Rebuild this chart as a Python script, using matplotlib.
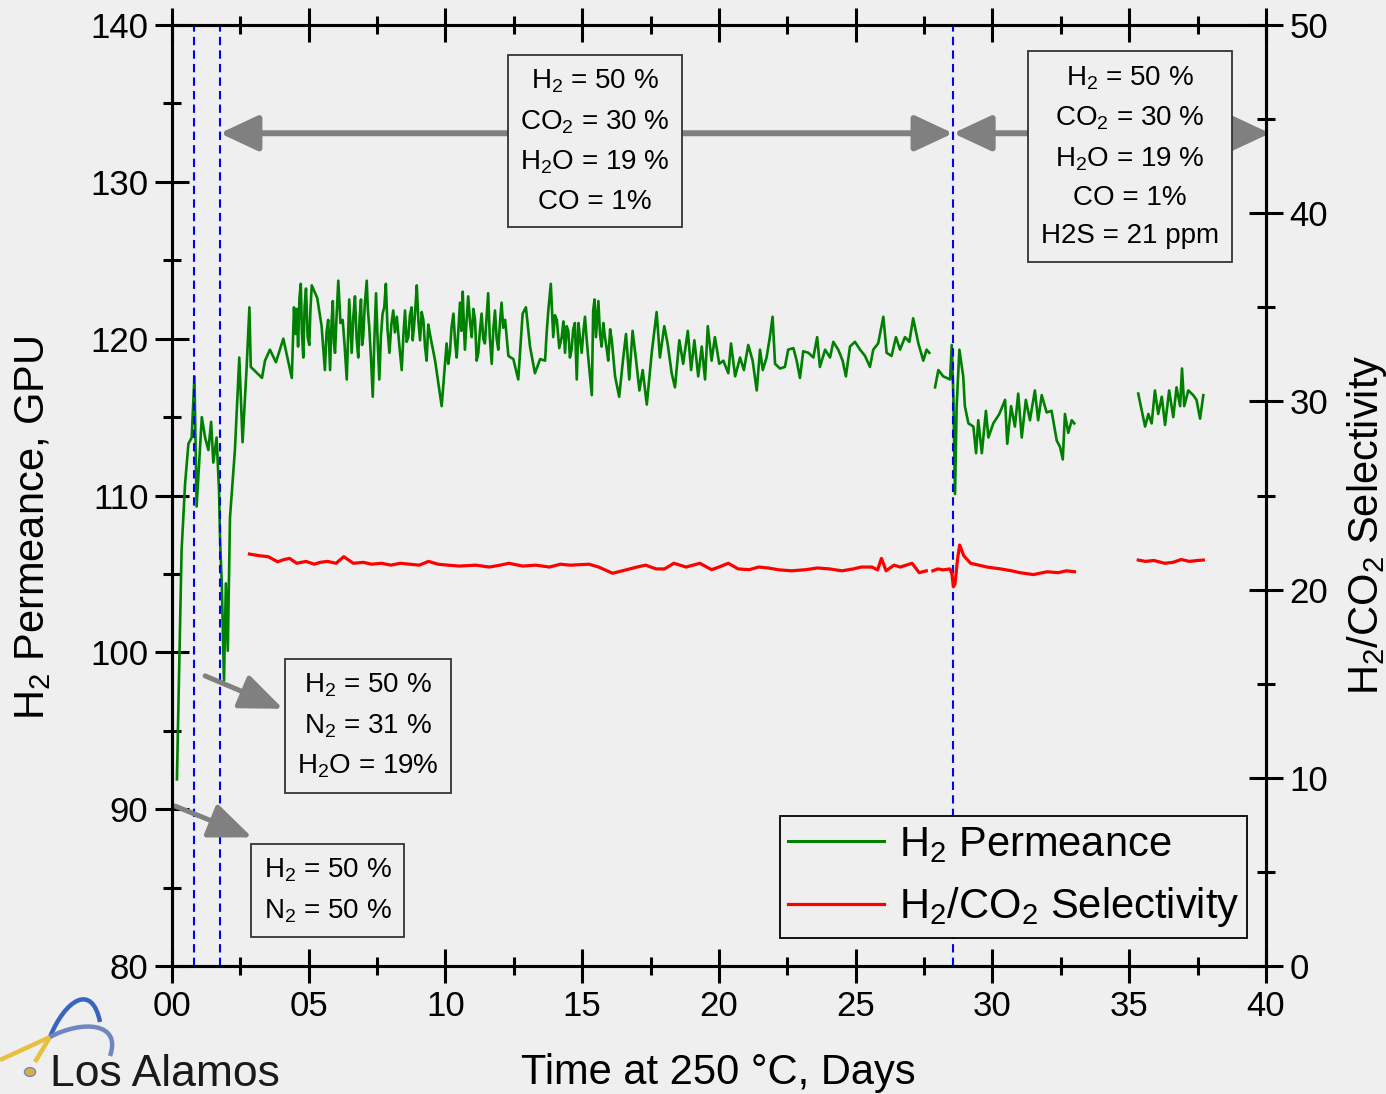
import numpy as np
import matplotlib.pyplot as plt
from matplotlib.ticker import MultipleLocator, FuncFormatter
from matplotlib.patches import Circle, PathPatch
from matplotlib.path import Path

plt.rcParams['font.family'] = ['Liberation Sans', 'DejaVu Sans']
plt.rcParams['mathtext.fontset'] = 'custom'
plt.rcParams['mathtext.rm'] = 'Liberation Sans'
plt.rcParams['mathtext.it'] = 'Liberation Sans:italic'
plt.rcParams['mathtext.bf'] = 'Liberation Sans:bold'

bg = '#efefef'

# H2 permeance (GPU), three runs separated by gaps
perm_days_1 = [0.18, 0.35, 0.48, 0.60, 0.72, 0.82, 0.90, 1.09, 1.21, 1.33, 1.43, 1.51, 1.63, 1.72,
               1.76, 1.82, 1.90, 1.97, 2.04, 2.12, 2.30, 2.46, 2.58, 2.73, 2.83, 2.88, 3.29, 3.40,
               3.58, 3.80, 4.07, 4.38, 4.46, 4.51, 4.56, 4.61, 4.66, 4.71, 4.75, 4.80, 4.85, 4.90,
               4.96, 5.02, 5.06, 5.11, 5.31, 5.47, 5.59, 5.65, 5.71, 5.78, 5.83, 5.88, 5.92, 5.96,
               6.02, 6.08, 6.16, 6.24, 6.31, 6.39, 6.44, 6.48, 6.53, 6.57, 6.63, 6.69, 6.75, 6.81,
               6.86, 6.91, 6.95, 6.99, 7.05, 7.12, 7.16, 7.21, 7.28, 7.34, 7.40, 7.46, 7.52, 7.58,
               7.64, 7.70, 7.76, 7.82, 7.88, 7.95, 8.02, 8.09, 8.15, 8.22, 8.31, 8.40, 8.46, 8.52,
               8.58, 8.64, 8.70, 8.76, 8.80, 8.85, 8.90, 8.95, 9.01, 9.07, 9.13, 9.19, 9.25, 9.31,
               9.37, 9.43, 9.62, 9.86, 10.04, 10.10, 10.16, 10.22, 10.29, 10.35, 10.41, 10.47, 10.53,
               10.58, 10.63, 10.67, 10.71, 10.77, 10.83, 10.90, 10.96, 11.02, 11.08, 11.14, 11.20,
               11.26, 11.32, 11.38, 11.44, 11.50, 11.56, 11.62, 11.69, 11.75, 11.81, 11.87, 11.93,
               11.99, 12.05, 12.11, 12.18, 12.30, 12.48, 12.66, 12.82, 12.94, 13.09, 13.27, 13.46,
               13.64, 13.70, 13.76, 13.85, 13.94, 14.00, 14.07, 14.16, 14.25, 14.31, 14.37, 14.43,
               14.49, 14.55, 14.61, 14.67, 14.73, 14.80, 14.86, 14.92, 14.98, 15.04, 15.10, 15.16,
               15.22, 15.35, 15.40, 15.45, 15.50, 15.59, 15.65, 15.71, 15.77, 15.83, 15.89, 15.95,
               16.02, 16.08, 16.20, 16.35, 16.50, 16.60, 16.72, 16.84, 16.97, 17.09, 17.21, 17.36,
               17.54, 17.72, 17.84, 18.00, 18.12, 18.27, 18.39, 18.55, 18.69, 18.86, 18.98, 19.10,
               19.24, 19.37, 19.49, 19.59, 19.73, 19.85, 20.01, 20.16, 20.34, 20.44, 20.59, 20.77,
               20.91, 21.07, 21.23, 21.38, 21.50, 21.60, 21.74, 21.86, 21.96, 22.05, 22.23, 22.41,
               22.53, 22.72, 22.84, 22.96, 23.08, 23.27, 23.45, 23.59, 23.69, 23.88, 24.06, 24.18,
               24.36, 24.52, 24.64, 24.79, 24.97, 25.16, 25.34, 25.52, 25.64, 25.82, 26.01, 26.13,
               26.31, 26.47, 26.62, 26.80, 26.96, 27.10, 27.29, 27.47, 27.59, 27.69]
perm_1 = [91.9, 106.5, 110.8, 113.3, 113.7, 117.6, 109.3, 115.0, 113.7, 112.9, 114.7, 112.1, 113.7, 110.3,
          107.0, 104.4, 98.2, 104.4, 100.1, 108.6, 112.9, 118.8, 113.4, 118.2, 122.0, 118.2, 117.5, 118.6,
          119.3, 118.5, 120.0, 117.5, 122.0, 120.3, 121.9, 119.5, 122.6, 123.5, 120.4, 118.8, 122.1, 123.2,
          120.1, 119.6, 121.8, 123.4, 122.6, 120.8, 118.0, 120.4, 121.2, 118.0, 120.9, 122.4, 119.8, 119.1,
          121.5, 123.7, 121.0, 121.2, 119.6, 117.4, 120.3, 122.5, 120.6, 119.1, 121.4, 122.7, 120.0, 118.8,
          121.3, 122.5, 119.6, 120.1, 122.2, 123.7, 121.9, 120.8, 118.6, 116.3, 120.0, 122.9, 119.8, 117.4,
          120.2, 121.6, 122.0, 123.5, 120.6, 119.1, 120.9, 121.8, 120.4, 121.4, 119.6, 118.0, 120.2, 121.8,
          119.8, 120.1, 121.5, 122.0, 119.9, 120.8, 122.0, 123.4, 121.1, 119.9, 121.7, 121.2, 119.5, 118.6,
          120.9, 120.3, 118.6, 115.7, 119.7, 118.4, 119.1, 120.7, 121.6, 119.8, 118.8, 120.6, 122.3,
          120.5, 123.0, 121.0, 119.3, 121.1, 122.7, 121.0, 120.1, 121.9, 121.2, 118.6, 119.1,
          120.5, 121.6, 120.0, 119.7, 121.3, 122.9, 120.1, 118.4, 120.6, 121.8, 120.0, 119.3,
          121.0, 122.3, 120.7, 121.2, 118.9, 118.7, 117.4, 121.6, 122.0, 119.5, 117.8, 118.7,
          118.6, 120.4, 121.8, 123.5, 120.1, 121.5, 121.2, 119.4, 120.1, 121.1, 119.1, 120.8,
          120.5, 118.8, 119.3, 120.6, 121.0, 117.4, 121.0, 120.0, 119.1, 120.4, 121.4, 120.0,
          118.8, 116.4, 121.8, 122.5, 120.1, 122.4, 120.3, 119.5, 121.0, 120.1, 119.4, 118.6,
          120.6, 119.9, 117.6, 116.3, 118.8, 120.3, 117.4, 120.5, 118.6, 116.7, 118.0, 115.8,
          119.1, 121.7, 118.8, 120.8, 119.7, 117.8, 116.9, 119.9, 118.4, 120.5, 118.0, 119.9,
          117.6, 119.5, 117.4, 120.8, 118.6, 120.1, 118.4, 118.6, 117.8, 119.7, 117.6, 118.8,
          118.0, 119.6, 118.6, 116.7, 119.3, 118.0, 118.8, 120.1, 121.4, 118.4, 118.1, 118.2,
          119.3, 119.4, 118.6, 117.5, 119.2, 119.1, 118.8, 120.1, 118.2, 119.3, 118.8, 119.8,
          119.3, 118.6, 117.6, 119.5, 119.8, 119.3, 118.9, 118.2, 119.3, 119.7, 121.4, 119.1,
          118.9, 120.1, 119.3, 120.1, 119.8, 121.3, 119.7, 118.6, 119.3, 119.1]

perm_days_2 = [27.90, 28.02, 28.20, 28.45, 28.51, 28.57, 28.63, 28.69, 28.79, 28.93, 28.99, 29.12, 29.30,
               29.40, 29.48, 29.61, 29.76, 29.85, 30.03, 30.25, 30.46, 30.54, 30.68, 30.82, 30.94, 31.07,
               31.22, 31.37, 31.55, 31.67, 31.80, 31.98, 32.16, 32.35, 32.47, 32.57, 32.65, 32.77, 32.90,
               32.99]
perm_2 = [116.9, 118.0, 117.6, 117.4, 119.6, 116.3, 110.1, 115.7, 119.3, 117.6, 115.7, 114.6, 114.4,
          112.7, 114.8, 112.7, 115.4, 113.7, 114.6, 115.2, 116.1, 113.3, 115.7, 114.4, 116.5, 113.7,
          116.1, 114.8, 116.7, 114.8, 116.4, 115.3, 115.4, 113.5, 113.1, 112.3, 115.2, 114.0, 114.8,
          114.6]

perm_days_3 = [35.33, 35.46, 35.58, 35.70, 35.82, 35.94, 36.06, 36.19, 36.31, 36.46, 36.61, 36.73, 36.86,
               36.93, 37.01, 37.16, 37.34, 37.46, 37.59, 37.71]
perm_3 = [116.5, 115.4, 114.4, 115.2, 114.6, 116.7, 115.2, 116.3, 114.5, 116.7, 115.0, 116.9, 115.7,
          118.1, 115.7, 116.7, 116.4, 116.1, 114.9, 116.4]

# H2/CO2 selectivity
sel_days_1 = [2.83, 3.20, 3.52, 3.86, 4.10, 4.30, 4.56, 4.90, 5.20, 5.42, 5.68, 6.00, 6.28, 6.63, 7.00,
              7.30, 7.66, 8.00, 8.35, 8.70, 9.04, 9.38, 9.73, 10.10, 10.50, 11.11, 11.60, 12.00, 12.32,
              12.83, 13.30, 13.80, 14.20, 14.56, 15.25, 15.60, 16.11, 16.63, 17.00, 17.32, 17.70,
              18.01, 18.35, 18.80, 19.30, 19.73, 20.00, 20.34, 20.70, 21.11, 21.45, 21.80, 22.20,
              22.66, 23.18, 23.60, 24.04, 24.50, 24.91, 25.20, 25.59, 25.80, 25.94, 26.11, 26.40,
              26.63, 27.06, 27.32, 27.58]
sel_1 = [21.89, 21.8, 21.75, 21.48, 21.6, 21.66, 21.4, 21.5, 21.35, 21.45, 21.5, 21.4, 21.75, 21.4, 21.45,
         21.35, 21.4, 21.3, 21.4, 21.35, 21.3, 21.5, 21.35, 21.3, 21.25, 21.3, 21.2, 21.3, 21.4,
         21.25, 21.3, 21.2, 21.35, 21.3, 21.35, 21.2, 20.87, 21.06, 21.2, 21.3, 21.1,
         21.1, 21.4, 21.2, 21.4, 21.06, 21.2, 21.4, 21.1, 21.06, 21.2, 21.15, 21.05,
         21.0, 21.06, 21.15, 21.1, 21.0, 21.1, 21.2, 21.2, 21.05, 21.66, 21.0, 21.3,
         21.2, 21.4, 20.9, 21.0]

sel_days_2 = [27.82, 28.00, 28.20, 28.45, 28.52, 28.57, 28.63, 28.72, 28.80, 28.95, 29.20, 29.50, 29.80,
              30.30, 30.70, 31.00, 31.50, 32.00, 32.40, 32.70, 33.00]
sel_2 = [21.0, 21.1, 21.05, 21.1, 20.8, 20.15, 20.3, 21.6, 22.37, 21.8, 21.4, 21.3, 21.2,
         21.1, 21.0, 20.9, 20.8, 20.95, 20.9, 21.0, 20.95]

sel_days_3 = [35.33, 35.60, 35.90, 36.30, 36.60, 36.90, 37.20, 37.50, 37.71]
sel_3 = [21.57, 21.5, 21.55, 21.4, 21.45, 21.6, 21.5, 21.55, 21.57]

gas_change_days = [0.8, 1.75, 28.56]

box_mix1 = 'H$_\\mathrm{2}$ = 50 %\nN$_\\mathrm{2}$ = 50 %'
box_mix2 = 'H$_\\mathrm{2}$ = 50 %\nN$_\\mathrm{2}$ = 31 %\nH$_\\mathrm{2}$O = 19%'
box_mix3 = 'H$_\\mathrm{2}$ = 50 %\nCO$_\\mathrm{2}$ = 30 %\nH$_\\mathrm{2}$O = 19 %\nCO = 1%'
box_mix4 = box_mix3 + '\nH2S = 21 ppm'

W, H = 1386, 1094
fig = plt.figure(figsize=(W / 100, H / 100), dpi=100, facecolor=bg)
ax = fig.add_axes([0.1241, 0.117, 0.7893, 0.8601])
ax.set_facecolor(bg)
ax2 = ax.twinx()

green = '#008000'
red = '#ff0000'
ax.plot(perm_days_1, perm_1, color=green, lw=1.9, zorder=2)
ax.plot(perm_days_2, perm_2, color=green, lw=1.9, zorder=2)
ax.plot(perm_days_3, perm_3, color=green, lw=1.9, zorder=2)
l1, = ax2.plot([], [], color=green, lw=2.2, label='H$_\\mathrm{2}$ Permeance')
ax2.plot(sel_days_1, sel_1, color=red, lw=2.3)
ax2.plot(sel_days_2, sel_2, color=red, lw=2.3)
l2, = ax2.plot(sel_days_3, sel_3, color=red, lw=2.3, label='H$_\\mathrm{2}$/CO$_\\mathrm{2}$ Selectivity')

for d in gas_change_days:
    ax.axvline(d, color='#0000ff', lw=1.5, ls=(0, (4, 2.5)), zorder=3)

ax.set_xlim(0, 40)
ax.set_ylim(80, 140)
ax2.set_ylim(0, 50)
ax.xaxis.set_major_locator(MultipleLocator(5))
ax.xaxis.set_minor_locator(MultipleLocator(2.5))
ax.yaxis.set_major_locator(MultipleLocator(10))
ax.yaxis.set_minor_locator(MultipleLocator(5))
ax2.yaxis.set_major_locator(MultipleLocator(10))
ax2.yaxis.set_minor_locator(MultipleLocator(5))
ax.xaxis.set_major_formatter(FuncFormatter(lambda v, p: '%02d' % v))

ax.tick_params(which='both', direction='inout', width=2.2, top=True, right=False, labelsize=25, pad=5)
ax.tick_params(which='major', length=24)
ax.tick_params(which='minor', length=13)
ax2.tick_params(which='both', direction='inout', width=2.2, labelsize=25, pad=5)
ax2.tick_params(which='major', length=24)
ax2.tick_params(which='minor', length=13)
for a in (ax, ax2):
    for s in a.spines.values():
        s.set_linewidth(2.2)

# gas composition boxes
box_style = dict(boxstyle='square,pad=0.45', fc=bg, ec='#333333', lw=1.3)
ax.text(15.47, 132.6, box_mix3, ha='center', va='center', fontsize=20, linespacing=1.62, bbox=box_style, zorder=5)
ax.text(35.03, 131.6, box_mix4, ha='center', va='center', fontsize=20, linespacing=1.62, bbox=box_style, zorder=5)
ax.text(7.17, 95.3, box_mix2, ha='center', va='center', fontsize=20, linespacing=1.62, bbox=box_style, zorder=5)
ax.text(5.70, 84.8, box_mix1, ha='center', va='center', fontsize=20, linespacing=1.62, bbox=box_style, zorder=5)

gray = '#808080'
big_arrow = dict(arrowstyle='<|-|>,head_length=0.9,head_width=0.42', color=gray, lw=4.3,
                 shrinkA=0, shrinkB=0, mutation_scale=26)
ax.annotate('', xy=(28.56, 133.1), xytext=(1.75, 133.1), arrowprops=big_arrow, zorder=4)
ax.annotate('', xy=(40.15, 133.1), xytext=(28.56, 133.1), arrowprops=big_arrow, zorder=4,
            annotation_clip=False)
small_arrow = dict(arrowstyle='-|>,head_length=1.1,head_width=0.45', color=gray, lw=3.6,
                   shrinkA=0, shrinkB=0, mutation_scale=24)
ax.annotate('', xy=(4.06, 96.4), xytext=(1.21, 98.5), arrowprops=small_arrow, zorder=4)
ax.annotate('', xy=(2.93, 88.2), xytext=(0.11, 90.2), arrowprops=small_arrow, zorder=4)

leg = ax2.legend(handles=[l1, l2], loc='lower right', bbox_to_anchor=(0.983, 0.03), borderaxespad=0,
                 fontsize=30, fancybox=False, edgecolor='black', facecolor=bg, framealpha=1,
                 handlelength=2.3, handletextpad=0.35, borderpad=0.2, labelspacing=0.5)
leg.get_frame().set_linewidth(1.3)

fig.text(0.024, 0.518, 'H$_\\mathrm{2}$ Permeance, GPU', rotation=90, ha='center', va='center', fontsize=30)
fig.text(0.986, 0.52, 'H$_\\mathrm{2}$/CO$_\\mathrm{2}$ Selectivity', rotation=90, ha='center', va='center', fontsize=30)
fig.text(0.518, 0.019, 'Time at 250 \u00b0C, Days', ha='center', va='center', fontsize=30)


# Los Alamos logo (drawn in figure pixels)
def px(x, y):
    return (x / W, (H - y) / H)


fig.text(*px(50, 1086), 'Los Alamos', fontsize=32, color='#1a1a1a', ha='left', va='baseline')
swooshes = [
    ([(35, 1062), (50, 1037)], [Path.MOVETO, Path.LINETO], '#e8c040'),
    ([(50, 1037), (65, 1000), (92, 982), (100, 1022)], [Path.MOVETO, Path.CURVE4, Path.CURVE4, Path.CURVE4], '#3a64c0'),
    ([(0, 1060), (50, 1037)], [Path.MOVETO, Path.LINETO], '#e8c040'),
    ([(50, 1037), (82, 1020), (122, 1022), (110, 1056)], [Path.MOVETO, Path.CURVE4, Path.CURVE4, Path.CURVE4], '#6f86c0'),
]
for pts, codes, col in swooshes:
    path = Path([px(x, y) for x, y in pts], codes)
    fig.add_artist(PathPatch(path, fc='none', ec=col, lw=3.2, transform=fig.transFigure))
fig.add_artist(Circle(px(30, 1072), 0.0040, fc='#d8b040', ec='#6f86c0', lw=1, transform=fig.transFigure))

fig.savefig('out.png', dpi=100, facecolor=bg)
